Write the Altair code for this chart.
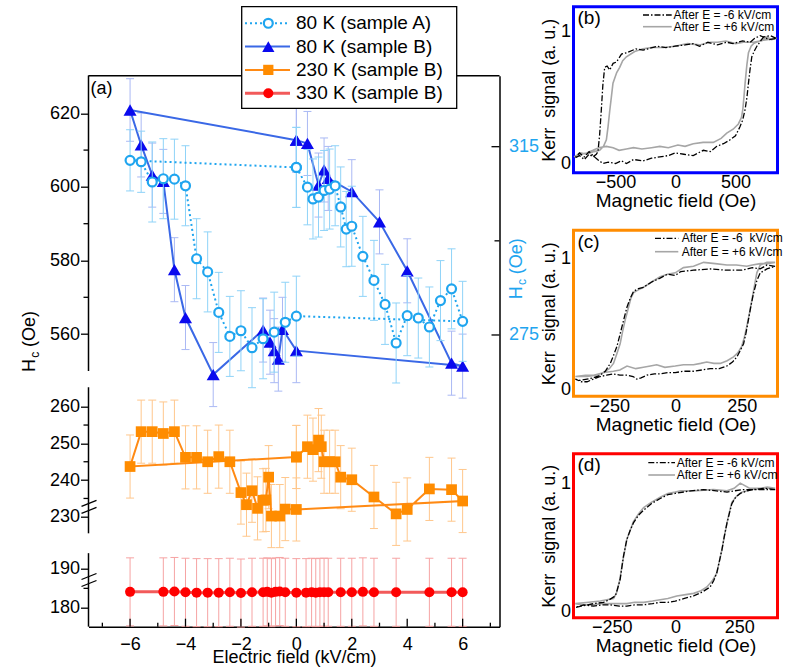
import altair as alt
import pandas as pd

FONT = "Liberation Sans"

# ---------------- panel (a): coercive field vs. electric field ----------------
# 80 K, sample A (right-hand axis), measured as a closed loop
E_A = [0, 0.4, 0.6, 0.8, 1.0, 1.2, 1.4, 1.6, 1.8, 2.0, 2.4, 2.8, 3.2, 3.6, 4.0, 4.4, 4.8, 5.2, 5.6, 6.0,
       0, -0.4, -0.8, -1.2, -1.6, -2.0, -2.4, -2.8, -3.2, -3.6, -4.0, -4.4, -4.8, -5.2, -5.6, -6.0, 0]
HC_A = [310.6, 306.4, 303.9, 304.3, 305.7, 306.0, 306.7, 302.2, 297.5, 298.1, 291.7, 286.6, 281.5, 273.3,
        279.1, 278.6, 276.7, 282.3, 284.8, 277.9,
        279.0, 277.7, 275.6, 274.2, 272.3, 275.9, 274.7, 279.8, 288.4, 291.2, 306.7, 308.1, 308.2, 307.5,
        311.8, 312.1, 310.6]
ERR_A = [8.5, 8.0, 8.5, 8.5, 8.5, 8.5, 8.5, 8.5, 8.0, 8.5, 8.5, 8.5, 8.5, 8.5, 8.5, 8.5, 8.5, 8.5, 8.5, 8.5,
         8.5, 8.5, 8.5, 8.5, 8.5, 8.5, 8.5, 8.5, 8.5, 8.5, 8.5, 8.5, 8.5, 8.5, 6.5, 6.5, 8.5]

# 80 K, sample B
E_B80 = [0, 0.4, 0.8, 1.0, 1.15, 2.0, 3.0, 4.0, 5.6, 6.0,
         0, -0.5, -0.65, -0.8, -0.95, -1.2, -3.0, -4.0, -4.4, -4.8, -5.2, -5.6, -6.0, 0]
HC_B80 = [612.7, 611.8, 600.5, 604.6, 602.3, 598.7, 590.5, 577.2, 552.1, 551.3,
          555.5, 561.3, 553.2, 555.5, 557.8, 561.1, 549.0, 564.5, 577.5, 601.5, 603.2, 611.4, 620.9, 612.7]
ERR_B80 = [8.7, 8.7, 8.7, 8.7, 8.7, 8.7, 8.7, 8.7, 8.7, 8.7,
           8.7, 8.7, 8.7, 8.7, 8.7, 8.7, 8.7, 8.7, 8.7, 8.7, 8.7, 8.7, 8.5, 8.7]

# 230 K, sample B
E_230 = [0, 0.4, 0.6, 0.8, 0.9, 1.0, 1.2, 1.4, 1.6, 2.0, 2.8, 3.6, 4.0, 4.8, 5.6, 6.0,
         0, -0.4, -0.6, -0.9, -1.0, -1.1, -1.2, -1.4, -1.6, -1.8, -2.0, -2.4, -2.8, -3.2, -3.6,
         -4.0, -4.4, -4.8, -5.2, -5.6, -6.0, 0]
HC_230 = [246.3, 249.1, 248.3, 250.9, 249.1, 245.0, 245.0, 245.0, 240.8, 240.1, 235.4, 230.8, 232.0, 237.6,
          237.4, 234.3,
          232.0, 232.1, 230.2, 230.2, 240.8, 234.6, 234.5, 232.3, 237.1, 233.3, 236.6, 245.0, 246.4, 245.0,
          246.2, 246.2, 253.2, 252.7, 253.2, 253.2, 243.7, 246.3]
ERR_230 = [8.6, 8.6, 8.6, 8.6, 8.6, 8.6, 8.6, 8.6, 8.6, 8.6, 8.6, 8.6, 8.6, 8.6, 8.6, 8.6,
           8.6, 8.6, 8.6, 8.6, 8.6, 8.6, 8.6, 8.6, 8.6, 8.6, 8.6, 8.6, 8.6, 8.6, 8.6,
           8.6, 8.6, 8.6, 8.6, 8.6, 8.6, 8.6]

# 330 K, sample B
E_330 = [-6.0, -4.8, -4.4, -4.0, -3.6, -3.2, -2.8, -2.4, -2.0, -1.6, -1.2, -1.05, -0.9, -0.75, -0.6, -0.4,
         0, 0.35, 0.55, 0.7, 0.85, 1.0, 1.15, 1.6, 2.0, 2.4, 2.8, 3.6, 4.8, 5.6, 6.0]
HC_330 = [184.1, 184.1, 184.2, 184.0, 183.9, 183.9, 183.9, 184.0, 183.8, 184.0, 184.0, 184.1, 183.9, 184.1,
          184.2, 184.0, 183.9, 183.9, 184.0, 183.9, 184.0, 184.0, 184.0, 184.0, 184.0, 184.1, 184.0, 184.0,
          184.0, 184.0, 184.0]
ERR_330 = [8.7, 8.7, 8.7, 8.7, 8.7, 8.7, 8.7, 8.7, 8.7, 8.7, 8.7, 8.7, 8.7, 8.7, 8.7, 8.7,
           8.7, 8.7, 8.7, 8.7, 8.7, 8.7, 8.7, 8.7, 8.7, 8.7, 8.7, 8.7, 8.7, 8.7, 8.7]

# broken left axis: the three value ranges that are shown
SEG_LO = [175.2, 225.5, 550.0]
SEG_HI = [194.0, 265.3, 630.3]
L_MAJOR = [620, 600, 580, 560, 260, 250, 240, 230, 190, 180]
L_MINOR = [610, 590, 570, 255, 245, 235, 185]
X_MAJOR = [-6, -4, -2, 0, 2, 4, 6]
X_MINOR = [-7, -5, -3, -1, 1, 3, 5, 7]
A_MAJOR = [275, 315]
A_MINOR = [295]

LEGEND_LABELS = ["80 K (sample A)", "80 K (sample B)", "230 K (sample B)", "330 K (sample B)"]

# ---------------- panels (b)-(d): Kerr loops ----------------
B_NEG_DOWN_H = [840, 790, 733, 706, 660, 622, 560, 480, 427, 350, 270, 200, 148, 80, -5, -80, -150, -270, -330,
                -409, -450, -492, -520, -548, -570, -590, -605, -618, -632, -646, -660, -688, -720, -760, -800, -840]
B_NEG_DOWN_S = [.95, .97, .96, .97, .95, .92, .93, .91, .92, .90, .92, .89, .91, .90, .89, .88, .89, .86, .87,
                .84, .83, .77, .76, .71, .74, .73, .60, .41, .22, .09, .07, .05, .07, .03, .06, .04]
B_NEG_UP_H = [-840, -800, -760, -720, -688, -650, -604, -560, -500, -450, -409, -350, -270, -200, -130, -60, -5,
              70, 148, 232, 290, 344, 400, 455, 500, 538, 560, 580, 595, 608, 622, 636, 660, 678, 710, 733, 780, 840]
B_NEG_UP_S = [.04, .08, .05, .09, .06, .03, .00, .01, .00, .02, .00, .03, .02, .04, .05, .06, .08,
              .07, .06, .10, .09, .13, .15, .18, .21, .28, .33, .41, .50, .61, .72, .81, .86, .89, .93, .96, .94, .95]
B_POS_DOWN_H = [845, 800, 762, 700, 650, 566, 500, 420, 350, 288, 200, 100, -5, -100, -200, -270, -340, -409,
                -440, -465, -490, -521, -535, -548, -562, -576, -600, -632, -680, -740, -790, -845]
B_POS_DOWN_S = [.95, .94, .96, .93, .92, .92, .91, .93, .92, .92, .90, .91, .89, .88, .88, .87, .85, .81,
                .78, .73, .69, .61, .50, .40, .28, .18, .13, .10, .09, .07, .08, .05]
B_POS_UP_H = [-845, -800, -740, -688, -640, -576, -520, -470, -409, -350, -280, -200, -130, -60, 20, 80, 148, 230,
              315, 380, 427, 480, 524, 550, 561, 570, 580, 595, 608, 630, 650, 700, 762, 845]
B_POS_UP_S = [.05, .07, .08, .10, .12, .13, .12, .10, .11, .12, .11, .12, .13, .12, .14, .13, .15, .16,
              .16, .19, .23, .26, .30, .35, .41, .50, .61, .75, .84, .89, .91, .93, .94, .95]

C_NEG_DOWN_H = [376, 345, 320, 290, 250, 194, 130, 68, 20, -1, -30, -58, -90, -121, -140, -158, -170, -183, -192,
                -202, -212, -221, -234, -246, -265, -284, -310, -334, -360, -378]
C_NEG_DOWN_S = [.94, .95, .92, .93, .91, .91, .92, .91, .90, .87, .88, .85, .82, .78, .77, .75, .70, .63, .56,
                .48, .40, .33, .26, .20, .14, .11, .09, .08, .07, .08]
C_NEG_UP_H = [-378, -355, -334, -310, -284, -260, -234, -210, -183, -160, -146, -130, -108, -80, -58, -30, -1, 30,
              68, 100, 131, 165, 194, 215, 232, 245, 257, 266, 275, 284, 294, 307, 320, 345, 376]
C_NEG_UP_S = [.08, .06, .06, .08, .10, .11, .12, .11, .11, .10, .08, .09, .11, .12, .12, .13, .13, .14,
              .14, .15, .16, .16, .18, .21, .25, .30, .35, .43, .53, .63, .73, .83, .89, .92, .94]
C_POS_DOWN_H = [376, 345, 320, 290, 269, 230, 194, 150, 106, 68, 30, -1, -30, -58, -90, -121, -140, -158, -168,
                -177, -190, -200, -209, -222, -234, -250, -272, -300, -334, -378]
C_POS_DOWN_S = [.97, .96, .96, .95, .94, .95, .95, .96, .97, .94, .93, .89, .88, .86, .82, .78, .76, .74, .70,
                .63, .53, .44, .35, .27, .20, .16, .13, .11, .10, .10]
C_POS_UP_H = [-378, -340, -309, -270, -234, -210, -183, -150, -121, -95, -71, -40, -1, 30, 68, 95, 118, 145, 169,
              195, 219, 235, 250, 260, 269, 279, 288, 298, 307, 320, 345, 376]
C_POS_UP_S = [.10, .11, .11, .13, .14, .15, .18, .16, .17, .18, .19, .17, .18, .19, .19, .20, .21, .20, .20,
              .22, .25, .28, .33, .40, .48, .58, .68, .79, .89, .95, .97, .97]

D_NEG_DOWN_H = [391, 350, 306, 267, 230, 202, 160, 110, 60, -1, -30, -60, -95, -125, -145, -165, -178, -191,
                -204, -217, -228, -236, -260, -282, -320, -347, -370, -393]
D_NEG_DOWN_S = [.95, .96, .95, .95, .94, .93, .94, .95, .94, .92, .91, .88, .84, .79, .75, .69, .63, .56,
                .43, .25, .17, .12, .09, .07, .06, .05, .04, .03]
D_NEG_UP_H = [-393, -360, -322, -290, -256, -220, -191, -160, -125, -90, -60, -30, -1, 35, 71, 105, 136, 150,
              162, 172, 182, 192, 202, 212, 221, 236, 254, 280, 306, 350, 391]
D_NEG_UP_S = [.03, .05, .04, .05, .05, .04, .04, .05, .05, .06, .07, .07, .08, .10, .12, .15, .19, .24,
              .30, .39, .48, .59, .69, .77, .84, .89, .92, .94, .95, .95, .95]
D_POS_DOWN_H = [391, 360, 332, 290, 254, 230, 202, 150, 71, 20, -1, -30, -60, -95, -125, -145, -165, -178, -191,
                -206, -220, -232, -243, -270, -295, -340, -393]
D_POS_DOWN_S = [.96, .97, .96, .96, 1.0, .96, .94, .95, .94, .94, .93, .92, .89, .85, .81, .76, .70, .63, .56,
                .40, .23, .14, .10, .09, .08, .07, .06]
D_POS_UP_H = [-393, -360, -322, -290, -256, -220, -191, -160, -125, -90, -60, -30, 5, 40, 71, 100, 123, 145, 162,
              172, 182, 192, 202, 212, 221, 240, 260, 300, 332, 360, 391]
D_POS_UP_S = [.06, .05, .05, .06, .06, .06, .06, .07, .07, .08, .09, .10, .12, .13, .14, .16, .19, .24, .30,
              .39, .48, .59, .69, .78, .85, .90, .93, .95, .96, .96, .96]

# ---------------- styling ----------------
A_COLOR, A_ERR = "#1fa5ef", "#8fd3f8"
B80_LINE, B80_MARK, B80_ERR = "#3a68e6", "#0a0aee", "#aab9f4"
O_LINE, O_MARK, O_ERR = "#ff8a14", "#ff8c00", "#ffc78c"
R_LINE, R_MARK, R_ERR = "#f25a5a", "#ff0000", "#f6a3a3"

W_MAIN, H_MAIN = 411, 551
W_K = 204
GAP = 74  # horizontal gap between panel (a) and the Kerr column

ONE = pd.DataFrame({"k": [0]})


def disp_expr(f):
    """Map a coercive field value (Oe) onto the broken vertical axis (pixels from the bottom)."""
    return (f"({f}) > 400 ? 513.4 + (({f}) - 620) * 3.68 : "
            f"({f}) > 210 ? 220 + (({f}) - 260) * 3.67 : 18.8 + (({f}) - 180) * 3.91")


INV_EXPR = ("format(datum.value > 240 ? 620 + (datum.value - 513.4) / 3.68 : "
            "datum.value > 85 ? 260 + (datum.value - 220) / 3.67 : "
            "180 + (datum.value - 18.8) / 3.91, '.0f')")


def to_disp(v):
    if v > 400:
        return 513.4 + (v - 620) * 3.68
    if v > 210:
        return 220 + (v - 260) * 3.67
    return 18.8 + (v - 180) * 3.91


X_SCALE = alt.Scale(domain=[-7.5, 7.33], nice=False, zero=False)
D_SCALE = alt.Scale(domain=[0, H_MAIN], nice=False, zero=False)
A_SCALE = alt.Scale(domain=[213.03, 330.08], nice=False, zero=False)

X_AXIS = alt.Axis(values=X_MAJOR, title="Electric field (kV/cm)", titleFontSize=18, titleFontWeight="normal",
                  titlePadding=-5, titleColor="black", labelFontSize=18, labelPadding=9, labelColor="black",
                  ticks=False, tickSize=0, domain=True, domainColor="black", domainWidth=1.5, grid=False)
L_AXIS = alt.Axis(values=[to_disp(v) for v in L_MAJOR], labelExpr=INV_EXPR, title=None, domain=False,
                  tickSize=8, tickWidth=1.3, tickColor="black", labelFontSize=18, labelPadding=1,
                  labelColor="black", grid=False)
A_AXIS = alt.Axis(orient="right", values=A_MAJOR, title=None, labelColor=A_COLOR, labelFontSize=18,
                  labelPadding=9, ticks=False, tickSize=0, domainColor="black", domainWidth=1.5, grid=False)

X = alt.X("E:Q", scale=X_SCALE, axis=X_AXIS)


def yd(field):
    return alt.Y(f"{field}:Q", scale=D_SCALE, axis=L_AXIS)


def ya(field):
    return alt.Y(f"{field}:Q", scale=A_SCALE, axis=A_AXIS)


CAP = "M-1,0L1,0"


def b_series(E, HC, ERR, line_color, mark_color, err_color, shape, size, line_width):
    df = pd.DataFrame({"E": E, "hc": HC, "err": ERR, "order": list(range(len(E)))})
    base = alt.Chart(df).transform_calculate(
        d=disp_expr("datum.hc"),
        lo=disp_expr("datum.hc - datum.err"),
        hi=disp_expr("datum.hc + datum.err"),
    )
    bars = base.mark_rule(color=err_color, strokeWidth=1).encode(x=X, y=yd("lo"), y2="hi:Q")
    cap_lo = base.mark_point(shape=CAP, size=64, filled=False, stroke=err_color, strokeWidth=1,
                             opacity=1).encode(x=X, y=yd("lo"))
    cap_hi = base.mark_point(shape=CAP, size=64, filled=False, stroke=err_color, strokeWidth=1,
                             opacity=1).encode(x=X, y=yd("hi"))
    line = base.mark_line(color=line_color, strokeWidth=line_width).encode(x=X, y=yd("d"), order="order:Q")
    pts = base.mark_point(shape=shape, filled=True, size=size, color=mark_color, opacity=1,
                          strokeWidth=0).encode(x=X, y=yd("d"))
    return [bars, cap_lo, cap_hi, line, pts]


# layers on the broken left axis
b_layers = []
b_layers += b_series(E_330, HC_330, ERR_330, R_LINE, R_MARK, R_ERR, "circle", 100, 3)
b_layers += b_series(E_230, HC_230, ERR_230, O_LINE, O_MARK, O_ERR, "square", 115, 2)
b_layers += b_series(E_B80, HC_B80, ERR_B80, B80_LINE, B80_MARK, B80_ERR, "triangle-up", 170, 2)

seg_df = pd.DataFrame({"lo": SEG_LO, "hi": SEG_HI})
b_layers.append(
    alt.Chart(seg_df).transform_calculate(dlo=disp_expr("datum.lo"), dhi=disp_expr("datum.hi"))
    .mark_rule(color="black", strokeWidth=1.5)
    .encode(x=alt.value(0), y=yd("dlo"), y2="dhi:Q")
)
# break marks sit in the gaps between neighbouring ranges
gap_df = pd.DataFrame({"below": SEG_HI[:2], "above": SEG_LO[1:]})
for off in (-3.5, 3.5):
    b_layers.append(
        alt.Chart(gap_df).transform_calculate(
            c=f"({disp_expr('datum.below')} + {disp_expr('datum.above')}) / 2 + {off}")
        .transform_calculate(c1="datum.c - 3", c2="datum.c + 3")
        .mark_rule(color="black", strokeWidth=1.3)
        .encode(x=alt.value(-7), x2=alt.value(8), y=yd("c1"), y2="c2:Q")
    )
b_layers.append(
    alt.Chart(pd.DataFrame({"v": L_MINOR})).transform_calculate(d=disp_expr("datum.v"))
    .mark_rule(color="black", strokeWidth=1.3)
    .encode(x=alt.value(0), x2=alt.value(-5), y=yd("d"))
)
b_layers.append(
    alt.Chart(pd.DataFrame({"E": X_MAJOR})).mark_rule(color="black", strokeWidth=1.3)
    .encode(x=X, y=alt.value(H_MAIN), y2=alt.value(H_MAIN - 8))
)
b_layers.append(
    alt.Chart(pd.DataFrame({"E": X_MINOR})).mark_rule(color="black", strokeWidth=1.3)
    .encode(x=X, y=alt.value(H_MAIN), y2=alt.value(H_MAIN - 4))
)
b_group = alt.layer(*b_layers)

# layers on the right-hand axis (sample A)
df_a = pd.DataFrame({"E": E_A, "hc": HC_A, "err": ERR_A, "order": list(range(len(E_A)))})
base_a = alt.Chart(df_a).transform_calculate(lo="datum.hc - datum.err", hi="datum.hc + datum.err")
a_layers = [
    base_a.mark_rule(color=A_ERR, strokeWidth=1).encode(x=X, y=ya("lo"), y2="hi:Q"),
    base_a.mark_point(shape=CAP, size=64, filled=False, stroke=A_ERR, strokeWidth=1, opacity=1)
    .encode(x=X, y=ya("lo")),
    base_a.mark_point(shape=CAP, size=64, filled=False, stroke=A_ERR, strokeWidth=1, opacity=1)
    .encode(x=X, y=ya("hi")),
    base_a.mark_line(color=A_COLOR, strokeWidth=2, strokeDash=[2, 3]).encode(x=X, y=ya("hc"), order="order:Q"),
    base_a.mark_point(shape="circle", size=80, filled=True, fill="white", stroke=A_COLOR, strokeWidth=2.2,
                      opacity=1).encode(x=X, y=ya("hc")),
    alt.Chart(pd.DataFrame({"v": A_MAJOR})).mark_rule(color="black", strokeWidth=1.3)
    .encode(x=alt.value(W_MAIN), x2=alt.value(W_MAIN - 8), y=ya("v")),
    alt.Chart(pd.DataFrame({"v": A_MINOR})).mark_rule(color="black", strokeWidth=1.3)
    .encode(x=alt.value(W_MAIN), x2=alt.value(W_MAIN - 5), y=ya("v")),
]
a_group = alt.layer(*a_layers)

# frame top, panel tag, axis titles and the legend box
deco = [
    alt.Chart(ONE).mark_rule(color="black", strokeWidth=1.5)
    .encode(x=alt.value(0), x2=alt.value(W_MAIN), y=alt.value(0)),
    alt.Chart(ONE).mark_text(text="(a)", fontSize=18, align="left", baseline="middle", color="black")
    .encode(x=alt.value(2), y=alt.value(13.5)),
    alt.Chart(ONE).mark_text(text="H", fontSize=18, angle=270, align="center", baseline="middle", color="black")
    .encode(x=alt.value(-58.5), y=alt.value(289.8)),
    alt.Chart(ONE).mark_text(text="c", fontSize=12, angle=270, align="center", baseline="middle", color="black")
    .encode(x=alt.value(-53.5), y=alt.value(279)),
    alt.Chart(ONE).mark_text(text="(Oe)", fontSize=18, angle=270, align="center", baseline="middle",
                             color="black")
    .encode(x=alt.value(-58.5), y=alt.value(253.3)),
    alt.Chart(ONE).mark_text(text="H", fontSize=18, angle=270, align="center", baseline="middle", color=A_COLOR)
    .encode(x=alt.value(428.5), y=alt.value(217)),
    alt.Chart(ONE).mark_text(text="c", fontSize=12, angle=270, align="center", baseline="middle", color=A_COLOR)
    .encode(x=alt.value(433.5), y=alt.value(206.2)),
    alt.Chart(ONE).mark_text(text="(Oe)", fontSize=18, angle=270, align="center", baseline="middle",
                             color=A_COLOR)
    .encode(x=alt.value(428.5), y=alt.value(180.5)),
    alt.Chart(ONE).mark_rect(fill="white", stroke="black", strokeWidth=1.3)
    .encode(x=alt.value(153.2), x2=alt.value(368.2), y=alt.value(-69), y2=alt.value(32.6)),
]

LEG_STYLE = [
    dict(line=A_COLOR, width=2, dash=[2, 3], shape="circle", mark=A_COLOR, hollow=True, size=80),
    dict(line=B80_LINE, width=2, dash=None, shape="triangle-up", mark=B80_MARK, hollow=False, size=150),
    dict(line=O_LINE, width=2, dash=None, shape="square", mark=O_MARK, hollow=False, size=105),
    dict(line=R_LINE, width=3, dash=None, shape="circle", mark=R_MARK, hollow=False, size=100),
]
for i, (label, st) in enumerate(zip(LEGEND_LABELS, LEG_STYLE)):
    yrow = -52.4 + 23.3 * i
    rule_kw = dict(color=st["line"], strokeWidth=st["width"])
    if st["dash"]:
        rule_kw["strokeDash"] = st["dash"]
    deco.append(alt.Chart(ONE).mark_rule(**rule_kw)
                .encode(x=alt.value(156.5), x2=alt.value(201.5), y=alt.value(yrow)))
    if st["hollow"]:
        pt = alt.Chart(ONE).mark_point(shape=st["shape"], size=st["size"], filled=True, fill="white",
                                       stroke=st["mark"], strokeWidth=2.2, opacity=1)
    else:
        pt = alt.Chart(ONE).mark_point(shape=st["shape"], size=st["size"], filled=True, color=st["mark"],
                                       strokeWidth=0, opacity=1)
    deco.append(pt.encode(x=alt.value(179.8), y=alt.value(yrow)))
    deco.append(alt.Chart(ONE).mark_text(text=label, fontSize=19, align="left", baseline="middle",
                                         color="black")
                .encode(x=alt.value(207.5), y=alt.value(yrow)))
deco_group = alt.layer(*deco)

main = (alt.layer(b_group, a_group, deco_group)
        .resolve_scale(y="independent")
        .properties(width=W_MAIN, height=H_MAIN, view=alt.ViewBackground(stroke="transparent")))

spacer = (alt.Chart(ONE).mark_text(text="").encode(x=alt.value(0), y=alt.value(0))
          .properties(width=W_MAIN, height=69, view=alt.ViewBackground(stroke="transparent")))

left_col = alt.vconcat(spacer, main, spacing=0, bounds="flush")


def kerr_panel(tag, frame, xdom, xticks, ydom, height, neg_down, neg_up, pos_down, pos_up,
               neg_text, pos_text, leg_x, text_x, rows):
    neg_h = neg_down[0] + neg_up[0]
    neg_s = neg_down[1] + neg_up[1]
    pos_h = pos_down[0] + pos_up[0]
    pos_s = pos_down[1] + pos_up[1]
    df_neg = pd.DataFrame({"H": neg_h, "S": neg_s, "o": list(range(len(neg_h)))})
    df_pos = pd.DataFrame({"H": pos_h, "S": pos_s, "o": list(range(len(pos_h)))})
    xk = alt.X("H:Q", scale=alt.Scale(domain=xdom, nice=False, zero=False),
               axis=alt.Axis(values=xticks, title="Magnetic field (Oe)", titleFontSize=19,
                             titleFontWeight="normal", titlePadding=0, titleColor="black",
                             labelFontSize=18, labelPadding=1, labelColor="black", ticks=False, tickSize=0,
                             domain=False, grid=False, labelFlush=False))
    yk = alt.Y("S:Q", scale=alt.Scale(domain=ydom, nice=False, zero=False),
               axis=alt.Axis(values=[0, 1], format=".0f", title="Kerr\u00a0\u00a0signal (a. u.)",
                             titleFontSize=18, titleFontWeight="normal", titlePadding=2, titleColor="black",
                             labelFontSize=18, labelPadding=3, labelColor="black", ticks=False, tickSize=0,
                             domain=False, grid=False, labelFlush=False))
    layers = [
        alt.Chart(df_pos).mark_line(color="#a6a6a6", strokeWidth=1.6).encode(x=xk, y=yk, order="o:Q"),
        alt.Chart(df_neg).mark_line(color="black", strokeWidth=1.3, strokeDash=[6, 2, 1.5, 2])
        .encode(x=xk, y=yk, order="o:Q"),
        alt.Chart(ONE).mark_text(text=tag, fontSize=19, align="left", baseline="middle", color="black")
        .encode(x=alt.value(4), y=alt.value(11.6)),
        alt.Chart(ONE).mark_rule(color="black", strokeWidth=1.3, strokeDash=[6, 2, 1.5, 2])
        .encode(x=alt.value(leg_x[0]), x2=alt.value(leg_x[1]), y=alt.value(rows[0])),
        alt.Chart(ONE).mark_rule(color="#a6a6a6", strokeWidth=1.6)
        .encode(x=alt.value(leg_x[0]), x2=alt.value(leg_x[1]), y=alt.value(rows[1])),
        alt.Chart(ONE).mark_text(text=neg_text, fontSize=12, align="left", baseline="middle", color="black")
        .encode(x=alt.value(text_x), y=alt.value(rows[0])),
        alt.Chart(ONE).mark_text(text=pos_text, fontSize=12, align="left", baseline="middle", color="black")
        .encode(x=alt.value(text_x), y=alt.value(rows[1])),
    ]
    return alt.layer(*layers).properties(width=W_K, height=height,
                                         view=alt.ViewBackground(stroke=frame, strokeWidth=3))


panel_b = kerr_panel("(b)", "#0000ff", [-850, 850], [-500, 0, 500], [-0.07, 1.19], 166,
                     (B_NEG_DOWN_H, B_NEG_DOWN_S), (B_NEG_UP_H, B_NEG_UP_S),
                     (B_POS_DOWN_H, B_POS_DOWN_S), (B_POS_UP_H, B_POS_UP_S),
                     "After E = -6 kV/cm", "After E = +6 kV/cm", (69.5, 98.2), 100, (8.3, 20))
panel_c = kerr_panel("(c)", "#ff8c00", [-385, 385], [-250, 0, 250], [-0.05, 1.215], 166,
                     (C_NEG_DOWN_H, C_NEG_DOWN_S), (C_NEG_UP_H, C_NEG_UP_S),
                     (C_POS_DOWN_H, C_POS_DOWN_S), (C_POS_UP_H, C_POS_UP_S),
                     "After E = -6\u00a0\u00a0kV/cm", "After E = +6 kV/cm", (81.5, 104.8), 108.2, (8.1, 21.5))
panel_d = kerr_panel("(d)", "#ff0000", [-400, 400], [-250, 0, 250], [-0.05, 1.23], 164,
                     (D_NEG_DOWN_H, D_NEG_DOWN_S), (D_NEG_UP_H, D_NEG_UP_S),
                     (D_POS_DOWN_H, D_POS_DOWN_S), (D_POS_UP_H, D_POS_UP_S),
                     "After E = -6 kV/cm", "After E = +6 kV/cm", (74.8, 101.5), 103.2, (9, 21.3))

right_col = alt.vconcat(panel_b, panel_c, panel_d, spacing=57.5, bounds="flush")

# with flush bounds the nested left column contributes no width, so the gap spans panel (a)
chart = (alt.hconcat(left_col, right_col, spacing=W_MAIN + GAP, bounds="flush")
         .properties(autosize=alt.AutoSizeParams(type="none"),
                     padding={"left": 88.5, "top": 6.7, "right": 699.5, "bottom": 661.3})
         .configure(font=FONT)
         .configure_view(stroke="transparent")
         .configure_axis(labelFont=FONT, titleFont=FONT)
         .configure_text(font=FONT))

chart.save("out.html", embed_options={"renderer": "svg", "actions": False})
